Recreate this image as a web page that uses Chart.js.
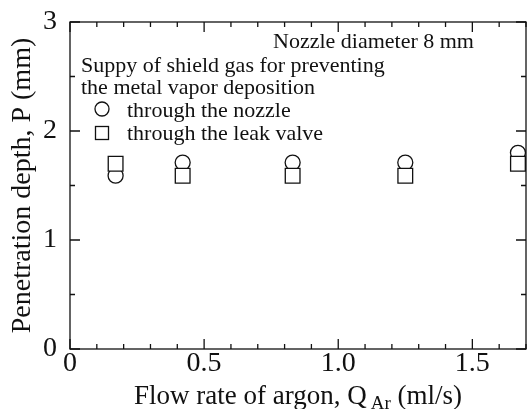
<!DOCTYPE html>
<html><head><meta charset="utf-8">
<script src="https://cdn.jsdelivr.net/npm/chart.js@4.4.1/dist/chart.umd.min.js"></script>
<style>html,body{margin:0;padding:0;background:#fff}#wrap{width:528px;height:409px}</style>
</head><body><div id="wrap"><canvas id="c" width="528" height="409"></canvas></div>
<script>
// ---- data ----
const flowRate = [0.17, 0.42, 0.83, 1.25, 1.67];
const depthNozzle = [1.59, 1.71, 1.71, 1.71, 1.80];
const depthLeakValve = [1.70, 1.59, 1.59, 1.59, 1.70];
const xTickValues = [0, 0.5, 1.0, 1.5];
const xTickLabels = ['0', '0.5', '1.0', '1.5'];
const yTickValues = [0, 1, 2, 3];
const yTickLabels = ['0', '1', '2', '3'];
const seriesNames = ['through the nozzle', 'through the leak valve'];
const annoTitle = 'Nozzle diameter 8 mm';
const annoLines = ['Suppy of shield gas for preventing', 'the metal vapor deposition'];
const xTitleMain = 'Flow rate of argon, Q';
const xTitleSub = 'Ar';
const xTitleEnd = ' (ml/s)';
const yTitle = 'Penetration depth, P (mm)';

const FONT = 'Liberation Serif';
const INK = '#111';

function pick(vals, labels, v) {
  const i = vals.findIndex(t => Math.abs(t - v) < 1e-6);
  return i >= 0 ? labels[i] : '';
}

const framePlugin = {
  id: 'frame',
  afterDatasetsDraw(chart) {
    const ctx = chart.ctx, a = chart.chartArea;
    const xs = chart.scales.x, ys = chart.scales.y;
    ctx.save();
    ctx.strokeStyle = INK;
    ctx.lineWidth = 1.3;
    ctx.strokeRect(a.left, a.top, a.right - a.left, a.bottom - a.top);
    ctx.beginPath();
    for (let i = 0; i <= 17; i++) {
      const px = xs.getPixelForValue(i / 10);
      const len = (i % 5 === 0) ? 10 : 5;
      ctx.moveTo(px, a.bottom); ctx.lineTo(px, a.bottom - len);
      ctx.moveTo(px, a.top); ctx.lineTo(px, a.top + len);
    }
    for (let i = 0; i <= 6; i++) {
      const py = ys.getPixelForValue(i / 2);
      const len = (i % 2 === 0) ? 10 : 5;
      ctx.moveTo(a.left, py); ctx.lineTo(a.left + len, py);
      ctx.moveTo(a.right, py); ctx.lineTo(a.right - len, py);
    }
    ctx.stroke();

    // annotation / legend
    ctx.fillStyle = INK;
    ctx.font = '22px "' + FONT + '"';
    ctx.textAlign = 'left';
    ctx.textBaseline = 'alphabetic';
    ctx.fillText(annoTitle, 273, 48);
    ctx.fillText(annoLines[0], 81, 72);
    ctx.fillText(annoLines[1], 81, 94);
    ctx.fillText(seriesNames[0], 127, 117);
    ctx.fillText(seriesNames[1], 127, 140);
    ctx.lineWidth = 1.3;
    ctx.beginPath();
    ctx.arc(102, 109, 7, 0, Math.PI * 2);
    ctx.stroke();
    ctx.strokeRect(95.5, 126.5, 13, 13);

    // axis titles
    ctx.font = '27px "' + FONT + '"';
    const w1 = ctx.measureText(xTitleMain).width;
    const w3 = ctx.measureText(xTitleEnd).width;
    ctx.font = '19px "' + FONT + '"';
    const w2 = ctx.measureText(xTitleSub).width;
    const gap = 4;
    const total = w1 + gap + w2 + w3;
    const cx = (a.left + a.right) / 2;
    let x0 = cx - total / 2;
    const base = 404;
    ctx.font = '27px "' + FONT + '"';
    ctx.fillText(xTitleMain, x0, base);
    ctx.font = '19px "' + FONT + '"';
    ctx.fillText(xTitleSub, x0 + w1 + gap, base + 5);
    ctx.font = '27px "' + FONT + '"';
    ctx.fillText(xTitleEnd, x0 + w1 + gap + w2, base);

    ctx.save();
    ctx.font = '28px "' + FONT + '"';
    ctx.translate(23, (a.top + a.bottom) / 2);
    ctx.rotate(-Math.PI / 2);
    ctx.textAlign = 'center';
    ctx.textBaseline = 'middle';
    ctx.fillText(yTitle, 0, 0);
    ctx.restore();
    ctx.restore();
  }
};

const pts = (ys) => flowRate.map((x, i) => ({x, y: ys[i]}));

new Chart(document.getElementById('c'), {
  type: 'scatter',
  data: {
    datasets: [
      {label: seriesNames[1], data: pts(depthLeakValve), pointStyle: 'rect', pointRadius: 10.4,
       borderColor: INK, backgroundColor: '#fff', borderWidth: 1.3, order: 0, clip: false},
      {label: seriesNames[0], data: pts(depthNozzle), pointStyle: 'circle', pointRadius: 7.5,
       borderColor: INK, backgroundColor: '#fff', borderWidth: 1.3, order: 1, clip: false}
    ]
  },
  options: {
    responsive: false, animation: false, devicePixelRatio: 1,
    layout: {autoPadding: false, padding: {top: 22, right: 2, left: 0, bottom: 0}},
    plugins: {legend: {display: false}, tooltip: {enabled: false}},
    scales: {
      x: {
        type: 'linear', min: 0, max: 1.7,
        grid: {display: false}, border: {display: false},
        afterFit(s) { s.height = 60; },
        ticks: {stepSize: 0.1, autoSkip: false, maxRotation: 0, minRotation: 0, padding: -10,
          color: INK, font: {family: FONT, size: 28},
          callback(v) { return pick(xTickValues, xTickLabels, v); }}
      },
      y: {
        type: 'linear', min: 0, max: 3,
        grid: {display: false}, border: {display: false},
        afterFit(s) { s.width = 70; },
        ticks: {stepSize: 0.5, autoSkip: false, padding: 5,
          color: INK, font: {family: FONT, size: 28},
          callback(v) { return pick(yTickValues, yTickLabels, v); }}
      }
    }
  },
  plugins: [framePlugin]
});
</script></body></html>
